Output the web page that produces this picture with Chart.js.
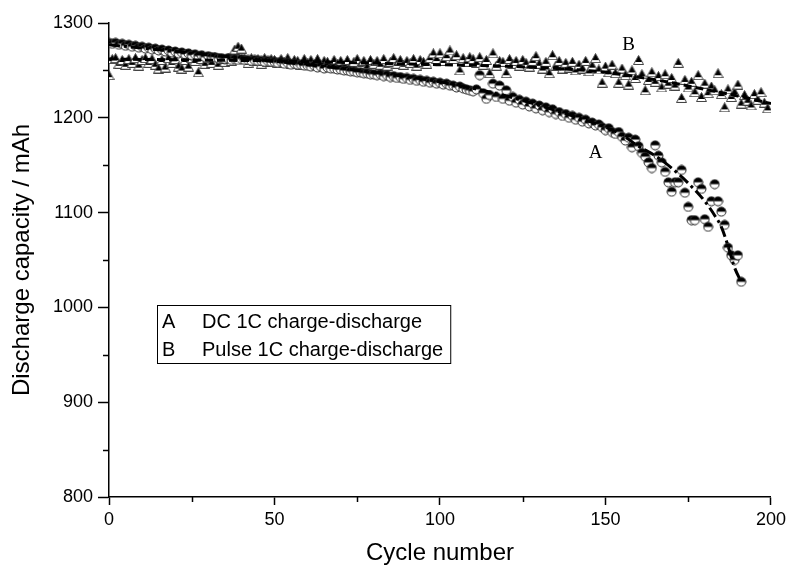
<!DOCTYPE html>
<html>
<head>
<meta charset="utf-8">
<script src="https://cdn.jsdelivr.net/npm/chart.js@4.4.0/dist/chart.umd.min.js"></script>
<style>
  html, body { margin: 0; padding: 0; background: #fff; }
</style>
</head>
<body>
<canvas id="capChart" width="790" height="568"></canvas>
<script>
// cycle numbers (x)
const cycles = [
  0, 1, 2, 3, 4, 5, 6, 7, 8, 9, 10, 11, 12, 13, 14, 15, 16, 17, 18, 19,
  20, 21, 22, 23, 24, 25, 26, 27, 28, 29, 30, 31, 32, 33, 34, 35, 36, 37, 38, 39,
  40, 41, 42, 43, 44, 45, 46, 47, 48, 49, 50, 51, 52, 53, 54, 55, 56, 57, 58, 59,
  60, 61, 62, 63, 64, 65, 66, 67, 68, 69, 70, 71, 72, 73, 74, 75, 76, 77, 78, 79,
  80, 81, 82, 83, 84, 85, 86, 87, 88, 89, 90, 91, 92, 93, 94, 95, 96, 97, 98, 99,
  100, 101, 102, 103, 104, 105, 106, 107, 108, 109, 110, 111, 112, 113, 114, 115, 116, 117, 118, 119,
  120, 121, 122, 123, 124, 125, 126, 127, 128, 129, 130, 131, 132, 133, 134, 135, 136, 137, 138, 139,
  140, 141, 142, 143, 144, 145, 146, 147, 148, 149, 150, 151, 152, 153, 154, 155, 156, 157, 158, 159,
  160, 161, 162, 163, 164, 165, 166, 167, 168, 169, 170, 171, 172, 173, 174, 175, 176, 177, 178, 179,
  180, 181, 182, 183, 184, 185, 186, 187, 188, 189, 190, 191, 192, 193, 194, 195, 196, 197, 198, 199
];

// A: DC 1C charge-discharge (cycles 0..191)
const capacityA = [
  1279, 1278, 1279, 1277, 1278, 1276, 1277, 1275, 1276, 1274,
  1275, 1273, 1274, 1272, 1273, 1271, 1272, 1270, 1271, 1269,
  1270, 1268, 1269, 1267, 1268, 1266, 1267, 1265, 1266, 1264,
  1265, 1264, 1264, 1263, 1263, 1262, 1263, 1261, 1262, 1261,
  1262, 1261, 1261, 1260, 1261, 1260, 1260, 1259, 1260, 1259,
  1259, 1258, 1259, 1257, 1258, 1256, 1257, 1256, 1256, 1255,
  1255, 1254, 1255, 1253, 1254, 1252, 1253, 1252, 1252, 1251,
  1251, 1250, 1250, 1249, 1249, 1248, 1248, 1247, 1247, 1246,
  1246, 1245, 1246, 1244, 1245, 1243, 1244, 1242, 1243, 1241,
  1242, 1240, 1241, 1239, 1240, 1238, 1239, 1237, 1238, 1236,
  1237, 1235, 1236, 1234, 1234, 1232, 1233, 1231, 1230, 1229,
  1228, 1230, 1245, 1226, 1220, 1224, 1236, 1222, 1234, 1220,
  1229, 1218, 1222, 1216, 1219, 1214, 1217, 1212, 1215, 1210,
  1213, 1208, 1211, 1206, 1209, 1204, 1206, 1202, 1204, 1200,
  1202, 1198, 1200, 1196, 1198, 1194, 1195, 1192, 1193, 1190,
  1187, 1189, 1185, 1183, 1185, 1180, 1176, 1179, 1169, 1177,
  1170, 1163, 1159, 1153, 1147, 1171, 1160, 1153, 1143, 1132,
  1122, 1132, 1132, 1145, 1121, 1106, 1092, 1092, 1132, 1125,
  1093, 1085, 1112, 1130, 1112, 1101, 1087, 1063, 1055, 1050,
  1055, 1027
];

// B: Pulse 1C charge-discharge (cycles 0..199)
const capacityB = [
  1245, 1262, 1263, 1257, 1261, 1256, 1262, 1258, 1263, 1255,
  1261, 1263, 1258, 1262, 1256, 1252, 1261, 1253, 1263, 1258,
  1262, 1254, 1252, 1261, 1254, 1263, 1260, 1248, 1262, 1257,
  1263, 1258, 1264, 1256, 1262, 1259, 1263, 1260, 1272, 1275,
  1273, 1262, 1258, 1263, 1260, 1262, 1257, 1263, 1259, 1262,
  1261, 1258, 1262, 1259, 1263, 1257, 1261, 1260, 1256, 1262,
  1258, 1261, 1257, 1262, 1256, 1260, 1259, 1255, 1261, 1257,
  1260, 1256, 1261, 1255, 1259, 1262, 1256, 1260, 1254, 1261,
  1257, 1260, 1256, 1262, 1255, 1259, 1263, 1257, 1261, 1256,
  1260, 1258, 1262, 1255, 1261, 1259, 1257, 1263, 1268, 1262,
  1268, 1260, 1265, 1271, 1262, 1266, 1250, 1263, 1259, 1264,
  1262, 1258, 1264, 1256, 1261, 1247, 1268, 1255, 1260, 1259,
  1247, 1262, 1257, 1260, 1255, 1261, 1258, 1254, 1260, 1265,
  1257, 1252, 1259, 1247, 1266, 1255, 1260, 1252, 1258, 1253,
  1259, 1250, 1256, 1252, 1260, 1249, 1255, 1263, 1251, 1237,
  1254, 1248, 1256, 1247, 1237, 1252, 1245, 1235, 1250, 1242,
  1261, 1246, 1229, 1240, 1248, 1238, 1244, 1232, 1246, 1236,
  1242, 1234, 1258, 1221, 1240, 1232, 1238, 1227, 1245, 1222,
  1236, 1226, 1233, 1229, 1247, 1225, 1211, 1230, 1222, 1227,
  1235, 1215, 1224, 1218, 1213, 1225, 1219, 1227, 1216, 1210
];

// fitted trend lines
const fitACycles = [0, 20, 40, 60, 80, 100, 110, 120, 130, 140, 150, 155, 160, 165, 170, 175, 180, 183, 185, 187, 189, 191];
const fitAValues = [1277, 1270, 1263, 1256, 1248, 1238, 1231, 1223, 1213, 1202, 1190, 1182, 1170, 1160, 1147, 1131, 1112, 1097, 1085, 1065, 1042, 1027];
const fitBCycles = [0, 25, 50, 75, 100, 115, 130, 140, 150, 160, 170, 180, 190, 200];
const fitBValues = [1262, 1261, 1260, 1258, 1256, 1255, 1253, 1251, 1248, 1243, 1237, 1230, 1223, 1215];

const xTicks = [0, 50, 100, 150, 200];
const xMinor = [25, 75, 125, 175];
const yTicks = [800, 900, 1000, 1100, 1200, 1300];
const yMinor = [850, 950, 1050, 1150, 1250];

const legendRows = [['A', 'DC 1C charge-discharge'], ['B', 'Pulse 1C charge-discharge']];
const curveLabels = [{ text: 'A', x: 147, y: 1163 }, { text: 'B', x: 157, y: 1277 }];

const sans = '"Liberation Sans", Arial, sans-serif';
const serif = '"Liberation Serif", "Times New Roman", serif';

function toPoints(xs, ys) {
    return ys.map((v, i) => ({ x: xs[i], y: v }));
}

function halfCircle() {
    const c = document.createElement('canvas');
    c.width = 11; c.height = 11;
    const g = c.getContext('2d');
    g.beginPath(); g.arc(5.5, 5.5, 4.5, 0, Math.PI * 2);
    g.fillStyle = '#fff'; g.fill();
    g.beginPath(); g.arc(5.5, 5.5, 4.5, Math.PI, Math.PI * 2); g.closePath();
    g.fillStyle = '#000'; g.fill();
    g.beginPath(); g.arc(5.5, 5.5, 4.5, 0, Math.PI * 2);
    g.lineWidth = 1; g.strokeStyle = '#222'; g.stroke();
    return c;
}

function halfTriangle() {
    const c = document.createElement('canvas');
    c.width = 11; c.height = 10;
    const g = c.getContext('2d');
    g.beginPath(); g.moveTo(5.5, 0.5); g.lineTo(10.5, 9.5); g.lineTo(0.5, 9.5); g.closePath();
    g.fillStyle = '#fff'; g.fill();
    g.save(); g.clip(); g.fillStyle = '#000'; g.fillRect(0, 0, 11, 7); g.restore();
    g.lineWidth = 1; g.strokeStyle = '#444'; g.stroke();
    return c;
}

// minor ticks, legend box and curve labels
const extras = {
    id: 'extras',
    afterDraw(chart) {
        const ctx = chart.ctx;
        const xs = chart.scales.x, ys = chart.scales.y;
        const area = chart.chartArea;
        ctx.save();
        ctx.strokeStyle = '#000';
        ctx.lineWidth = 1.5;
        xMinor.forEach(v => {
            const px = Math.round(xs.getPixelForValue(v)) + 0.5;
            ctx.beginPath(); ctx.moveTo(px, area.bottom); ctx.lineTo(px, area.bottom + 5); ctx.stroke();
        });
        yMinor.forEach(v => {
            const py = Math.round(ys.getPixelForValue(v)) + 0.5;
            ctx.beginPath(); ctx.moveTo(area.left - 6, py); ctx.lineTo(area.left, py); ctx.stroke();
        });

        // legend box
        ctx.font = '20px ' + sans;
        ctx.fillStyle = '#000';
        ctx.textBaseline = 'middle';
        const boxL = area.left + 48, boxT = area.top + 282;
        const textX = boxL + 45;
        let maxW = 0;
        legendRows.forEach(r => { maxW = Math.max(maxW, ctx.measureText(r[1]).width); });
        ctx.lineWidth = 1;
        ctx.strokeRect(boxL + 0.5, boxT + 0.5, textX - boxL + maxW + 7, 58);
        legendRows.forEach((r, i) => {
            const yy = boxT + 17 + i * 28;
            ctx.textAlign = 'left';
            ctx.fillText(r[0], boxL + 5, yy);
            ctx.fillText(r[1], textX, yy);
        });

        // curve labels
        ctx.font = '19px ' + serif;
        ctx.textAlign = 'center';
        curveLabels.forEach(l => {
            ctx.fillText(l.text, xs.getPixelForValue(l.x), ys.getPixelForValue(l.y));
        });
        ctx.restore();
    }
};

const ctx = document.getElementById('capChart').getContext('2d');
const capChart = new Chart(ctx, {
    type: 'scatter',
    data: {
        datasets: [{
            label: 'A fit',
            data: toPoints(fitACycles, fitAValues),
            showLine: true,
            borderColor: '#000',
            borderWidth: 3,
            borderDash: [11, 4, 3, 4],
            pointRadius: 0,
            cubicInterpolationMode: 'monotone'
        }, {
            label: 'B fit',
            data: toPoints(fitBCycles, fitBValues),
            showLine: true,
            borderColor: '#000',
            borderWidth: 3,
            borderDash: [8, 4],
            pointRadius: 0,
            cubicInterpolationMode: 'monotone'
        }, {
            label: 'A',
            data: toPoints(cycles, capacityA),
            pointStyle: halfCircle(),
            pointRadius: 4
        }, {
            label: 'B',
            data: toPoints(cycles, capacityB),
            pointStyle: halfTriangle(),
            pointRadius: 4
        }]
    },
    options: {
        responsive: false,
        animation: false,
        devicePixelRatio: 1,
        layout: {
            autoPadding: false,
            padding: { top: 23, right: 18, left: 0, bottom: 0 }
        },
        plugins: {
            legend: { display: false },
            tooltip: { enabled: false }
        },
        scales: {
            x: {
                type: 'linear',
                min: 0,
                max: 200,
                afterFit: s => { s.height = 71; },
                afterBuildTicks: s => { s.ticks = xTicks.map(v => ({ value: v })); },
                border: { display: true, color: '#000', width: 1.5 },
                grid: { drawOnChartArea: false, drawTicks: true, tickLength: 8, tickColor: '#000', tickWidth: 1.5 },
                ticks: { color: '#000', font: { family: sans, size: 18 }, padding: 4, maxRotation: 0, callback: v => String(v) },
                title: {
                    display: true,
                    text: 'Cycle number',
                    color: '#000',
                    font: { family: sans, size: 24 },
                    padding: { top: 0, bottom: 0 }
                }
            },
            y: {
                type: 'linear',
                min: 800,
                max: 1300,
                afterFit: s => { s.width = 109; },
                afterBuildTicks: s => { s.ticks = yTicks.map(v => ({ value: v })); },
                border: { display: true, color: '#000', width: 1.5 },
                grid: { drawOnChartArea: false, drawTicks: true, tickLength: 11, tickColor: '#000', tickWidth: 1.5 },
                ticks: { color: '#000', font: { family: sans, size: 18 }, padding: 5, callback: v => String(v) },
                title: {
                    display: true,
                    text: 'Discharge capacity / mAh',
                    color: '#000',
                    font: { family: sans, size: 24 },
                    padding: { top: 8, bottom: 0 }
                }
            }
        }
    },
    plugins: [extras]
});
</script>
</body>
</html>
